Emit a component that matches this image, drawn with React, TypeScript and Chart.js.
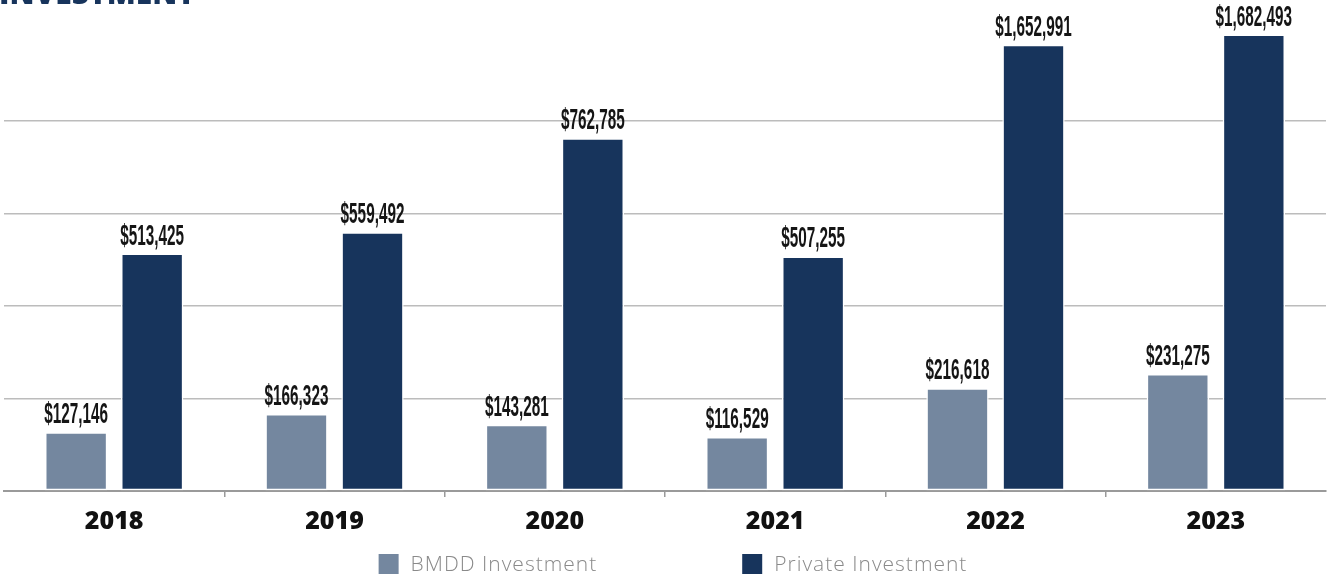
import React, { useEffect, useRef } from "react";
import { Chart, registerables } from "chart.js";

Chart.register(...registerables);

const titleText = "INVESTMENT";
const categories = ["2018", "2019", "2020", "2021", "2022", "2023"];
const seriesLabels = ["BMDD Investment", "Private Investment"];
// Printed amounts
const bmddInvestment = [127146, 166323, 143281, 116529, 216618, 231275];
const privateInvestment = [513425, 559492, 762785, 507255, 1652991, 1682493];
// Bar heights as drawn in the source graphic (2022–2023 bars are not to scale there)
const bmddBarHeights = [127146, 166323, 143281, 116529, 222000, 253000];
const privateBarHeights = [513425, 559492, 762785, 507255, 965000, 987000];
const yMax = 1000000;
const yStep = 200000;

const GRAY = "#74879F";
const NAVY = "#17345C";

const fmt = (v: number) => "$" + v.toLocaleString("en-US");

const titlePlugin = {
  id: "cutTitle",
  afterDraw(chart: any) {
    const ctx = chart.ctx;
    ctx.save();
    ctx.fillStyle = NAVY;
    ctx.font = '800 30px "Open Sans"';
    ctx.textAlign = "left";
    ctx.textBaseline = "alphabetic";
    ctx.fillText(titleText, -1, 4);
    ctx.restore();
  },
};

const valueLabelPlugin = {
  id: "valueLabels",
  afterDatasetsDraw(chart: any) {
    const ctx = chart.ctx;
    ctx.save();
    ctx.fillStyle = "#151515";
    ctx.font = 'bold 30px "Liberation Sans", Arial, sans-serif';
    ctx.textAlign = "center";
    ctx.textBaseline = "alphabetic";
    chart.data.datasets.forEach((ds: any, di: number) => {
      const meta = chart.getDatasetMeta(di);
      meta.data.forEach((el: any, i: number) => {
        const txt = fmt(ds.amounts[i]);
        ctx.save();
        ctx.translate(el.x, el.y - 9);
        ctx.scale(0.51, 1);
        ctx.fillText(txt, 0, 0);
        ctx.restore();
      });
    });
    ctx.restore();
  },
};

const legendPlugin = {
  id: "customLegend",
  afterDraw(chart: any) {
    const ctx = chart.ctx;
    const area = chart.chartArea;
    const box = 20;
    const textGap = 12;
    const itemGap = 145;
    ctx.save();
    ctx.font = '300 21px "Open Sans"';
    (ctx as any).letterSpacing = "1px";
    const items = chart.data.datasets.map((ds: any) => ({
      label: ds.label,
      color: ds.backgroundColor,
      w: box + textGap + ctx.measureText(ds.label).width,
    }));
    const total =
      items.reduce((s: number, it: any) => s + it.w, 0) + itemGap * (items.length - 1);
    let x = (area.left + area.right) / 2 - total / 2 + 8;
    const cy = 564;
    items.forEach((it: any) => {
      ctx.fillStyle = it.color;
      ctx.fillRect(x, cy - box / 2, box, box);
      ctx.fillStyle = "#8a8a8a";
      ctx.textAlign = "left";
      ctx.textBaseline = "middle";
      ctx.fillText(it.label, x + box + textGap, cy + 1);
      x += it.w + itemGap;
    });
    ctx.restore();
  },
};

export default function App() {
  const ref = useRef<HTMLCanvasElement | null>(null);

  useEffect(() => {
    if (!ref.current) return;
    const chart = new Chart(ref.current, {
      type: "bar",
      data: {
        labels: categories,
        datasets: [
          {
            label: seriesLabels[0],
            data: bmddBarHeights,
            amounts: bmddInvestment,
            backgroundColor: GRAY,
            borderColor: "#ffffff",
            borderWidth: 1.5,
            borderSkipped: false,
            categoryPercentage: 0.69,
            barPercentage: 0.82,
          } as any,
          {
            label: seriesLabels[1],
            data: privateBarHeights,
            amounts: privateInvestment,
            backgroundColor: NAVY,
            borderColor: "#ffffff",
            borderWidth: 1.5,
            borderSkipped: false,
            categoryPercentage: 0.69,
            barPercentage: 0.82,
          } as any,
        ],
      },
      options: {
        animation: false,
        responsive: true,
        maintainAspectRatio: false,
        layout: { padding: { left: 4, right: 4, top: 28.5, bottom: 30 } },
        plugins: {
          legend: { display: false },
          tooltip: { enabled: false },
          title: { display: false },
        },
        scales: {
          x: {
            offset: true,
            border: { display: true, color: "#9a9a9a", width: 2 },
            grid: {
              display: true,
              offset: true,
              drawOnChartArea: false,
              drawTicks: true,
              tickLength: 6,
              lineWidth: 1.5,
              color: (c: any) =>
                c.type === "tick" && c.index > 0 ? "#9a9a9a" : "transparent",
            },
            ticks: {
              color: "#111111",
              padding: 10,
              font: { family: '"Open Sans"', size: 25, weight: 800 },
            },
          },
          y: {
            min: 0,
            max: yMax,
            border: { display: false },
            grid: {
              drawTicks: false,
              lineWidth: 1.5,
              color: (c: any) =>
                c.tick && (c.tick.value === 0 || c.tick.value >= yMax)
                  ? "transparent"
                  : "#bcbcbc",
            },
            ticks: { display: false, stepSize: yStep },
            afterFit: (s: any) => {
              s.width = 0;
            },
          },
        },
      },
      plugins: [valueLabelPlugin, legendPlugin, titlePlugin],
    });
    return () => chart.destroy();
  }, []);

  return (
    <div style={{ position: "fixed", left: 0, top: 0, width: 1330, height: 577, background: "#fff" }}>
      <canvas ref={ref} />
    </div>
  );
}
